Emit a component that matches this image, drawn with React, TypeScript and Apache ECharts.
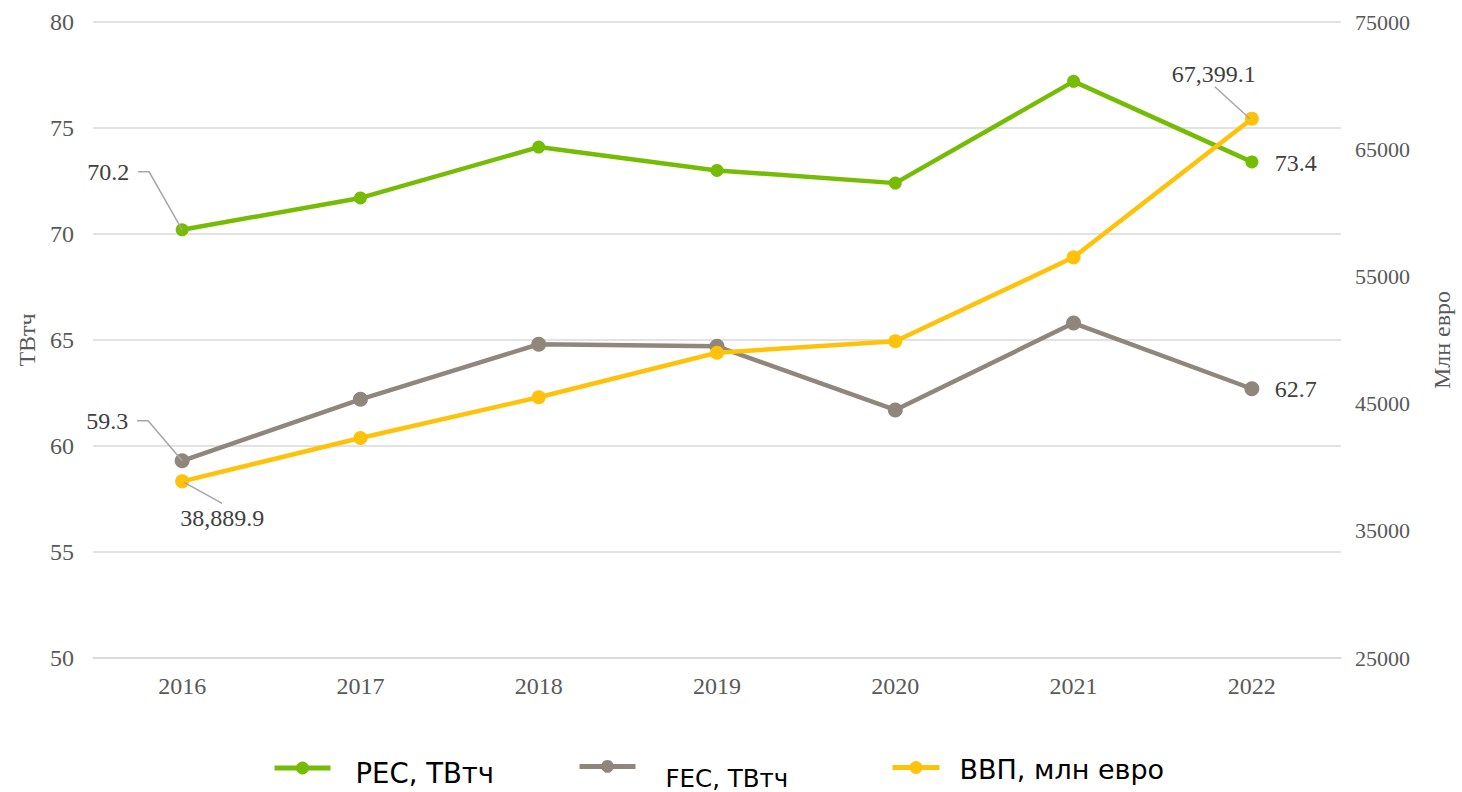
import React, { useEffect, useRef } from "react";
import * as echarts from "echarts";

const years = ["2016", "2017", "2018", "2019", "2020", "2021", "2022"];
const pecValues = [70.2, 71.7, 74.1, 73.0, 72.4, 77.2, 73.4];
const fecValues = [59.3, 62.2, 64.8, 64.7, 61.7, 65.8, 62.7];
const gdpValues = [38889.9, 42300, 45500, 49000, 49900, 56500, 67399.1];

const seriesNames = ["PEC, ТВтч", "FEC, ТВтч", "ВВП, млн евро"];
const colors = ["#76BC05", "#8F877C", "#FFC20A"];

const SERIF = "'Liberation Serif', 'Times New Roman', serif";
const SANS = "'DejaVu Sans', 'Liberation Sans', sans-serif";

const fmtThousands = (v: number) =>
  v.toLocaleString("en-US", { minimumFractionDigits: 1, maximumFractionDigits: 1 });

type LabelCfg = {
  position: string;
  anchor: "left" | "right" | "center";
  ox: number;
  oy: number;
  line?: "elbow" | "toTop" | "fromBottom";
  fmt: (v: number) => string;
};

export default function App() {
  const ref = useRef<HTMLDivElement>(null);
  useEffect(() => {
    if (!ref.current) return;
    const chart = echarts.init(ref.current, null, { renderer: "svg" });
    const labelBase = { fontFamily: SERIF, fontSize: 24, color: "#404040" };
    const leaders: Record<string, number[][]> = {};

    const mk = (vals: number[], cfg: Record<number, LabelCfg>) =>
      vals.map((v, i) => {
        const c = cfg[i];
        if (!c) return { value: v, label: { show: false } };
        return {
          value: v,
          label: {
            show: true,
            ...labelBase,
            position: c.position,
            formatter: (p: any) => c.fmt(p.value),
          },
        };
      });

    const layoutFor = (key: string, cfg: Record<number, LabelCfg>) => (p: any) => {
      const c = cfg[p.dataIndex];
      if (!c) return {};
      const r = p.rect;
      const lr = p.labelRect;
      const px = r.x + r.width / 2;
      const py = r.y + r.height / 2;
      const curX =
        c.anchor === "right" ? lr.x + lr.width : c.anchor === "left" ? lr.x : lr.x + lr.width / 2;
      const curY = lr.y + lr.height / 2;
      const dx = px + c.ox - curX;
      const dy = py + c.oy - curY;
      const Lx = lr.x + dx;
      const Ly = lr.y + dy;
      const Lw = lr.width;
      const Lh = lr.height;
      let pts: number[][] | undefined;
      if (c.line === "elbow")
        pts = [
          [Lx + Lw + 9, Ly + Lh / 2],
          [Lx + Lw + 20, Ly + Lh / 2],
          [px, py],
        ];
      else if (c.line === "toTop")
        pts = [
          [px + 2, py + 1],
          [Lx + Lw / 2, Ly - 3],
        ];
      else if (c.line === "fromBottom")
        pts = [
          [Lx + Lw / 2 + 1, Ly + Lh + 1],
          [px - 2, py],
        ];
      if (pts) leaders[key + "_" + p.dataIndex] = pts;
      return { dx, dy };
    };

    const one = (v: number) => v.toFixed(1);
    const pecCfg: Record<number, LabelCfg> = {
      0: { position: "left", anchor: "right", ox: -53, oy: -58, line: "elbow", fmt: one },
      6: { position: "right", anchor: "left", ox: 23, oy: 1, fmt: one },
    };
    const fecCfg: Record<number, LabelCfg> = {
      0: { position: "left", anchor: "right", ox: -54, oy: -40, line: "elbow", fmt: one },
      6: { position: "right", anchor: "left", ox: 23, oy: 0, fmt: one },
    };
    const gdpCfg: Record<number, LabelCfg> = {
      0: { position: "bottom", anchor: "center", ox: 40, oy: 37, line: "toTop", fmt: fmtThousands },
      6: { position: "top", anchor: "center", ox: -38, oy: -45, line: "fromBottom", fmt: fmtThousands },
    };

    const mkLegend = (
      name: string,
      left: number,
      top: number,
      itemWidth: number,
      fontSize: number,
      padTop: number,
      padLeft: number
    ) => ({
      data: [name],
      left,
      top,
      padding: 0,
      itemWidth,
      itemHeight: 16,
      lineStyle: { width: 5 },
      formatter: (n: string) => "{a|" + n + "}",
      textStyle: {
        fontFamily: SANS,
        fontSize,
        color: "#000",
        rich: {
          a: { fontFamily: SANS, fontSize, color: "#000", padding: [padTop, 0, 0, padLeft] },
        },
      },
    });

    chart.setOption({
      animation: false,
      grid: { left: 93, right: 121, top: 22, bottom: 134 },
      legend: [
        mkLegend(seriesNames[0], 272, 759, 56, 27.5, 10, 20),
        mkLegend(seriesNames[1], 577, 760, 56, 24.5, 24, 25),
        mkLegend(seriesNames[2], 890, 756, 47, 27, 4, 15),
      ],
      xAxis: {
        type: "category",
        data: years,
        boundaryGap: true,
        axisLine: { show: true, lineStyle: { color: "#D9D9D9", width: 1.5 } },
        axisTick: { show: false },
        axisLabel: { fontFamily: SERIF, fontSize: 24, color: "#595959", margin: 16 },
      },
      yAxis: [
        {
          type: "value",
          min: 50,
          max: 80,
          interval: 5,
          name: "ТВтч",
          nameLocation: "middle",
          nameGap: 52,
          nameTextStyle: { fontFamily: SERIF, fontSize: 24, color: "#595959" },
          axisLine: { show: false },
          axisTick: { show: false },
          axisLabel: { fontFamily: SERIF, fontSize: 24, color: "#595959", margin: 19 },
          splitLine: { lineStyle: { color: "#D9D9D9", width: 1.5 } },
        },
        {
          type: "value",
          min: 25000,
          max: 75000,
          interval: 10000,
          name: "Млн евро",
          nameLocation: "middle",
          nameGap: 89,
          nameTextStyle: { fontFamily: SERIF, fontSize: 24, color: "#595959" },
          axisLine: { show: false },
          axisTick: { show: false },
          axisLabel: {
            fontFamily: SERIF,
            fontSize: 22,
            color: "#595959",
            margin: 14,
            formatter: (v: number) => String(v),
          },
          splitLine: { show: false },
        },
      ],
      series: [
        {
          name: seriesNames[0],
          type: "line",
          yAxisIndex: 0,
          color: colors[0],
          symbol: "circle",
          symbolSize: 13,
          lineStyle: { width: 4.5 },
          z: 3,
          data: mk(pecValues, pecCfg),
          labelLayout: layoutFor("pec", pecCfg),
        },
        {
          name: seriesNames[1],
          type: "line",
          yAxisIndex: 0,
          color: colors[1],
          symbol: "circle",
          symbolSize: 15,
          lineStyle: { width: 4.5 },
          z: 2,
          data: mk(fecValues, fecCfg),
          labelLayout: layoutFor("fec", fecCfg),
        },
        {
          name: seriesNames[2],
          type: "line",
          yAxisIndex: 1,
          color: colors[2],
          symbol: "circle",
          symbolSize: 14,
          lineStyle: { width: 4.5 },
          z: 4,
          data: mk(gdpValues, gdpCfg),
          labelLayout: layoutFor("gdp", gdpCfg),
        },
      ],
    });

    const zr = chart.getZr();
    Object.keys(leaders).forEach((k) => {
      const pl = new echarts.graphic.Polyline({
        shape: { points: leaders[k] },
        style: { stroke: "#A6A6A6", lineWidth: 1.5, fill: null as any },
        z: 100,
        silent: true,
      });
      zr.add(pl);
    });
    return () => chart.dispose();
  }, []);
  return (
    <div
      ref={ref}
      style={{ position: "absolute", left: 0, top: 0, width: 1462, height: 792, background: "#fff" }}
    />
  );
}
